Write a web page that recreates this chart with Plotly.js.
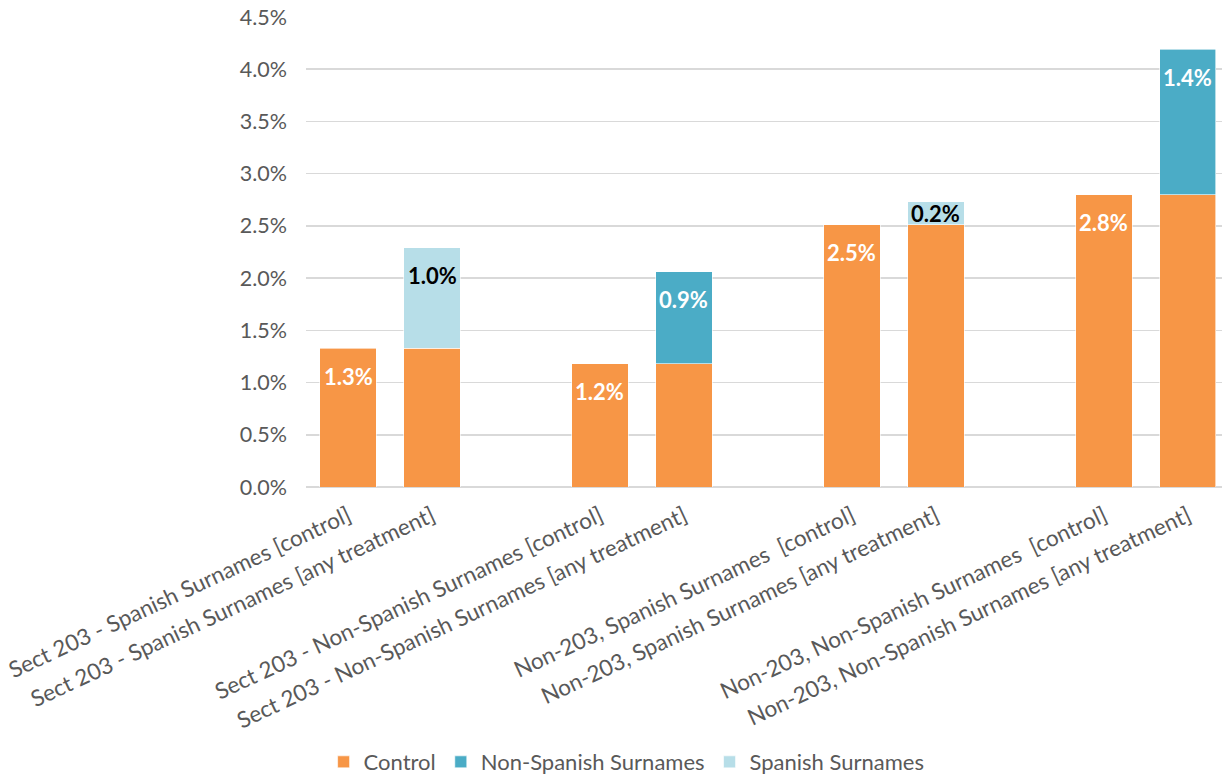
<!DOCTYPE html>
<html>
<head>
<meta charset="utf-8">
<script src="https://cdn.plot.ly/plotly-3.0.1.min.js"></script>
<style>html,body{margin:0;padding:0;background:#fff;}#chart{width:1222px;height:776px;}</style>
</head>
<body>
<div id="chart"></div>
<script>
// Category slots (blank slots separate the groups)
const slots = [0,1,2,3,4,5,6,7,8,9,10];
const categoryLabels = [
  "Sect 203 - Spanish Surnames [control]",
  "Sect 203 - Spanish Surnames [any treatment]",
  "",
  "Sect 203 - Non-Spanish Surnames [control]",
  "Sect 203 - Non-Spanish Surnames [any treatment]",
  "",
  "Non-203, Spanish Surnames  [control]",
  "Non-203, Spanish Surnames [any treatment]",
  "",
  "Non-203, Non-Spanish Surnames  [control]",
  "Non-203, Non-Spanish Surnames [any treatment]"
];
// Values in percent
const controlVals    = [1.33, 1.33, null, 1.18, 1.18, null, 2.51, 2.51, null, 2.80, 2.80];
const nonSpanishVals = [null, null, null, null, 0.88, null, null, null, null, null, 1.39];
const spanishVals    = [null, 0.96, null, null, null, null, null, 0.22, null, null, null];
// which control values carry a label (control-only bars)
const controlLabelled = [true, false, false, true, false, false, true, false, false, true, false];

const FONT = "Lato, 'Open Sans', sans-serif";
const colors = {control:"#F79646", non:"#4BACC6", spa:"#B7DEE8"};

const traces = [
  {type:"bar", name:"Control", x:slots, y:controlVals, marker:{color:colors.control, line:{color:"#ffffff", width:0.6}}, hoverinfo:"y"},
  {type:"bar", name:"Non-Spanish Surnames", x:slots, y:nonSpanishVals, marker:{color:colors.non, line:{color:"#ffffff", width:0.6}}, hoverinfo:"y"},
  {type:"bar", name:"Spanish Surnames", x:slots, y:spanishVals, marker:{color:colors.spa, line:{color:"#ffffff", width:0.6}}, hoverinfo:"y"}
];

const plotH = 470, yMax = 4.5;
const annotations = [];
function addLabel(x, top, seg, color){
  const segPx = seg * plotH / yMax;
  const shift = -Math.min(28, segPx/2);
  annotations.push({x:x, y:top, xref:"x", yref:"y", text:seg.toFixed(1)+"%", showarrow:false,
    yshift:shift, font:{family:FONT, size:22, color:color, weight:"bold"}});
}
slots.forEach((s,i)=>{
  const c = controlVals[i];
  if (c != null && controlLabelled[i]) addLabel(s, c, c, "#ffffff");
  if (nonSpanishVals[i] != null) addLabel(s, c + nonSpanishVals[i], nonSpanishVals[i], "#ffffff");
  if (spanishVals[i] != null) addLabel(s, c + spanishVals[i], spanishVals[i], "#000000");
});

const layout = {
  width:1222, height:776,
  margin:{l:306, r:0, t:17, b:289},
  barmode:"stack", bargap:0.333,
  paper_bgcolor:"#ffffff", plot_bgcolor:"#ffffff",
  font:{family:FONT, color:"#595959", size:21},
  showlegend:true,
  legend:{orientation:"h", x:0.35, xanchor:"center", yref:"container", y:0.018, yanchor:"middle",
    font:{family:FONT, size:22, color:"#595959"}, itemwidth:30, traceorder:"normal"},
  xaxis:{range:[-0.5, 10.405], tickmode:"array", tickvals:slots, ticktext:categoryLabels,
    tickangle:-25, showgrid:false, zeroline:false, showline:false, ticks:"",
    ticklabeloverflow:"allow", ticklabelstandoff:11,
    tickfont:{family:FONT, size:22.5, color:"#595959"}, fixedrange:true},
  yaxis:{range:[0, 4.5], dtick:0.5, tick0:0, tickformat:".1f", ticksuffix:"%",
    showgrid:true, gridcolor:"#D9D9D9", gridwidth:1.5, zeroline:true, zerolinecolor:"#D9D9D9", zerolinewidth:2,
    showline:false, ticks:"", ticklabelstandoff:18,
    tickfont:{family:FONT, size:21.5, color:"#595959"}, fixedrange:true},
  annotations:annotations
};

Plotly.newPlot("chart", traces, layout, {displayModeBar:false, staticPlot:true});
</script>
</body>
</html>
